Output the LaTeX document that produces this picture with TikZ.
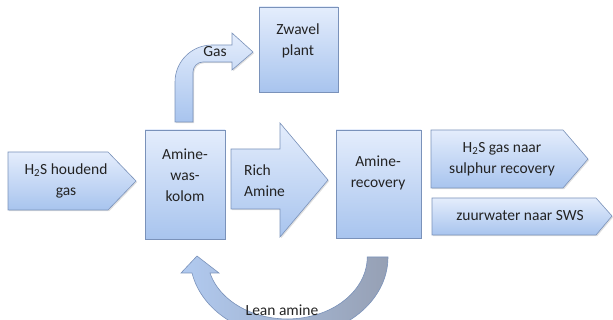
\documentclass[tikz,border=0pt]{standalone}
\usepackage{fontspec}
\setmainfont{Carlito}
\usepackage{tikz}
\usetikzlibrary{shadows}
\definecolor{blauw}{RGB}{168,196,238}
\definecolor{lichtblauw}{RGB}{228,237,252}
\definecolor{rand}{RGB}{122,146,186}
\definecolor{grijs}{RGB}{150,160,180}
\definecolor{tekst}{RGB}{35,35,35}

\begin{document}
\begin{tikzpicture}[x=1pt, y=-1pt, font=\fontsize{15.5}{21}\selectfont, text=tekst,
    blok/.style={draw=rand, line width=0.6pt, top color=lichtblauw, bottom color=blauw,
      drop shadow={shadow xshift=1.2pt, shadow yshift=-1.2pt, opacity=0.25}},
    tekstje/.style={align=center, inner sep=0pt}]

    \clip (0,0) rectangle (613,320);

    % Invoer
    \draw[blok] (8,152) -- (108,152) -- (136,181) -- (108,210) -- (8,210) -- cycle;
    \node[tekstje] (invoer) at (66,181) {H\textsubscript{2}S houdend\\gas};

    % Wassen
    \draw[blok] (145,130) rectangle (225,239);
    \node[tekstje] (kolom) at (185,175) {Amine-\\was-\\kolom};

    % Gas naar zwavelfabriek
    \draw[blok] (175,122) -- (175,82) arc[start angle=180, end angle=270, radius=37]
      -- (232,45) -- (232,33) -- (253,52) -- (232,70) -- (232,62) -- (203,62)
      arc[start angle=270, end angle=180, radius=10] -- (193,122) -- cycle;
    \node[tekstje] (gas) at (215,52) {Gas};
    \draw[blok] (259,7) rectangle (338,92);
    \node[tekstje] (zwavel) at (298,41) {Zwavel\\plant};

    % Rijke amine
    \draw[blok] (231,149) -- (280,149) -- (280,123) -- (328,180) -- (280,237)
      -- (280,209) -- (231,209) -- cycle;
    \node[tekstje, anchor=west, align=left] (rich) at (244,181) {Rich\\Amine};

    % Regeneratie
    \draw[blok] (336,130) rectangle (421,238);
    \node[tekstje] (recovery) at (378,173) {Amine-\\recovery};

    % Uitvoer
    \draw[blok] (431,130) -- (563,130) -- (588,159) -- (563,188) -- (431,188) -- cycle;
    \node[tekstje] (sulphur) at (502,159) {H\textsubscript{2}S gas naar\\sulphur recovery};
    \draw[blok] (432,198) -- (596,198) -- (612,216) -- (596,235) -- (432,235) -- cycle;
    \node[tekstje] (sws) at (520,216) {zuurwater naar SWS};

    % Arme amine terug
    \draw[draw=rand, line width=0.6pt, left color=blauw!85!lichtblauw, right color=grijs]
      (388,257) arc[start angle=0, end angle=168.5, x radius=99, y radius=80]
      -- (181,273) -- (197,256) -- (219,273) -- (210,273)
      arc[start angle=165, end angle=0, x radius=80, y radius=62] -- cycle;
    \node[tekstje] (lean) at (282,310) {Lean amine};

\end{tikzpicture}
\end{document}
